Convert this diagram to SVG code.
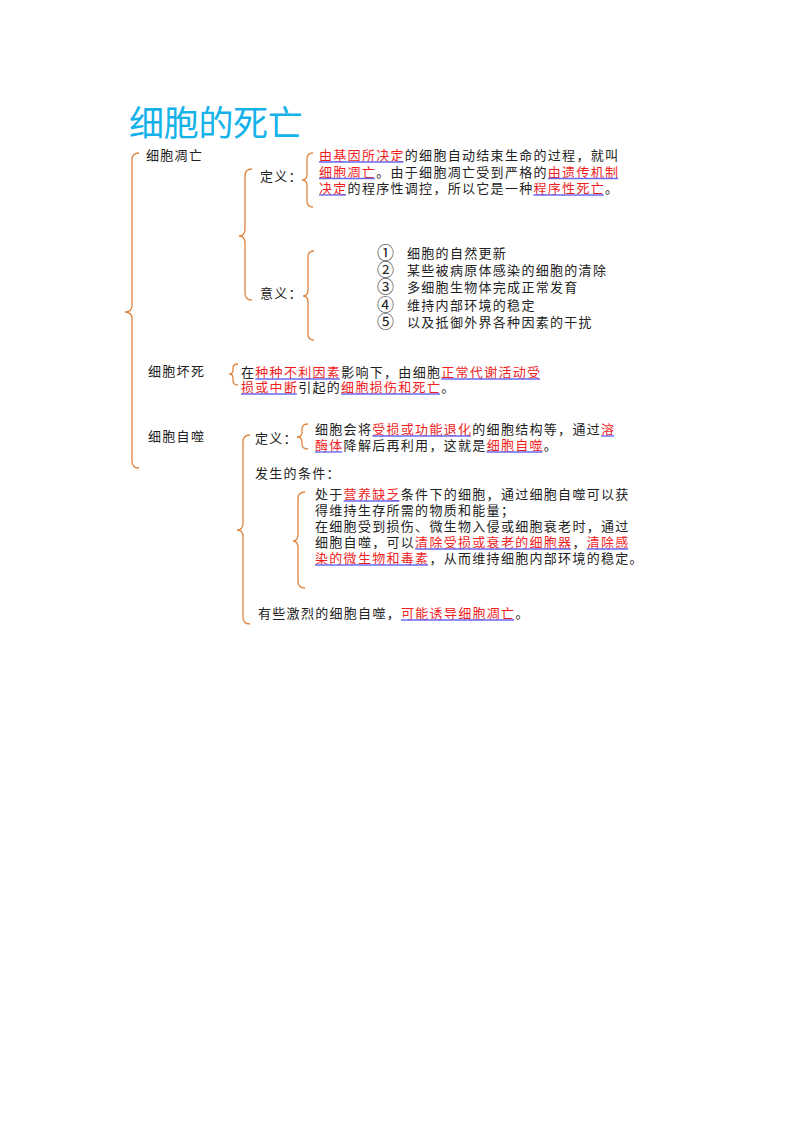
<svg xmlns="http://www.w3.org/2000/svg" width="800" height="1132" viewBox="0 0 800 1132">
<style>
text{font-family:"Noto Sans CJK SC","Noto Sans",sans-serif;font-size:13px;letter-spacing:1.3px;fill:#222}
.title{font-size:35px;letter-spacing:-0.3px;fill:#14B2EA}
.r{fill:#F01E1E}
.num{font-size:17px;letter-spacing:0}
.brace{fill:none;stroke:#DD8642;stroke-width:1.3}
.ul{stroke:#6B6BF0;stroke-width:1.4}
</style>
<rect width="800" height="1132" fill="#fff"/>
<g id="title"><text class="title" x="129" y="136">细胞的死亡</text></g>

<g id="connectors">
<path class="brace" d="M139,153 Q132,153 132,160 L132,305 Q132,312 125,312 Q132,312 132,319 L132,461 Q132,468 139,468"/>
<path class="brace" d="M252,169 Q245,169 245,176 L245,229 Q245,236 239,236 Q245,236 245,243 L245,293 Q245,300 252,300"/>
<path class="brace" d="M313,153 Q307,153 307,159 L307,174 Q307,180 302,180 Q307,180 307,186 L307,201 Q307,207 313,207"/>
<path class="brace" d="M314,251 Q308,251 308,257 L308,290 Q308,296 303,296 Q308,296 308,302 L308,334 Q308,340 314,340"/>
<path class="brace" d="M238,364 Q233,364 233,368 L233,370 Q233,374 229,374 Q233,374 233,378 L233,381 Q233,385 238,385"/>
<path class="brace" d="M250,435 Q243,435 243,442 L243,523 Q243,530 237,530 Q243,530 243,537 L243,617 Q243,624 250,624"/>
<path class="brace" d="M308,424 Q302,424 302,429 L302,432 Q302,437 297,437 Q302,437 302,442 L302,444 Q302,449 308,449"/>
<path class="brace" d="M305,492 Q298,492 298,499 L298,534 Q298,541 293,541 Q298,541 298,548 L298,581 Q298,588 305,588"/>
</g>

<g id="apoptosis"><text x="146" y="160">细胞凋亡</text></g>
<g id="apoptosis-def-label"><text x="260" y="181">定义：</text></g>
<g id="apoptosis-def">
<text x="319" y="160"><tspan class="r">由基因所决定</tspan>的细胞自动结束生命的过程，就叫</text>
<text x="319" y="176.5"><tspan class="r">细胞凋亡</tspan>。由于细胞凋亡受到严格的<tspan class="r">由遗传机制</tspan></text>
<text x="319" y="193"><tspan class="r">决定</tspan>的程序性调控，所以它是一种<tspan class="r">程序性死亡</tspan>。</text>
<line class="ul" x1="319" y1="162" x2="403.5" y2="162"/>
<line class="ul" x1="319" y1="178.5" x2="374.9" y2="178.5"/>
<line class="ul" x1="547.8" y1="178.5" x2="618" y2="178.5"/>
<line class="ul" x1="319" y1="195" x2="346" y2="195"/>
<line class="ul" x1="533.5" y1="195" x2="603.7" y2="195"/>
</g>
<g id="apoptosis-sig-label"><text x="260" y="298">意义：</text></g>
<g id="apoptosis-sig">
<text class="num" x="377" y="259">①</text><text x="407" y="258">细胞的自然更新</text>
<text class="num" x="377" y="276">②</text><text x="407" y="275">某些被病原体感染的细胞的清除</text>
<text class="num" x="377" y="293">③</text><text x="407" y="292">多细胞生物体完成正常发育</text>
<text class="num" x="377" y="310.5">④</text><text x="407" y="309.5">维持内部环境的稳定</text>
<text class="num" x="377" y="328">⑤</text><text x="407" y="327">以及抵御外界各种因素的干扰</text>
</g>

<g id="necrosis"><text x="148" y="376">细胞坏死</text></g>
<g id="necrosis-def">
<text x="241" y="377">在<tspan class="r">种种不利因素</tspan>影响下，由细胞<tspan class="r">正常代谢活动受</tspan></text>
<text x="241" y="392"><tspan class="r">损或中断</tspan>引起的<tspan class="r">细胞损伤和死亡</tspan>。</text>
<line class="ul" x1="255.3" y1="379" x2="339.8" y2="379"/>
<line class="ul" x1="441.2" y1="379" x2="540" y2="379"/>
<line class="ul" x1="241" y1="394" x2="296.9" y2="394"/>
<line class="ul" x1="341.1" y1="394" x2="439.9" y2="394"/>
</g>

<g id="autophagy"><text x="148" y="441">细胞自噬</text></g>
<g id="autophagy-def-label"><text x="255" y="443">定义：</text></g>
<g id="autophagy-def">
<text x="315" y="434">细胞会将<tspan class="r">受损或功能退化</tspan>的细胞结构等，通过<tspan class="r">溶</tspan></text>
<text x="315" y="450"><tspan class="r">酶体</tspan>降解后再利用，这就是<tspan class="r">细胞自噬</tspan>。</text>
<line class="ul" x1="372.2" y1="436" x2="471" y2="436"/>
<line class="ul" x1="601" y1="436" x2="614" y2="436"/>
<line class="ul" x1="315" y1="452" x2="342.3" y2="452"/>
<line class="ul" x1="486.6" y1="452" x2="542.5" y2="452"/>
</g>
<g id="autophagy-cond-label"><text x="255" y="478">发生的条件：</text></g>
<g id="autophagy-cond">
<text x="315" y="499">处于<tspan class="r">营养缺乏</tspan>条件下的细胞，通过细胞自噬可以获</text>
<text x="315" y="515">得维持生存所需的物质和能量；</text>
<text x="315" y="531">在细胞受到损伤、微生物入侵或细胞衰老时，通过</text>
<text x="315" y="547">细胞自噬，可以<tspan class="r">清除受损或衰老的细胞器</tspan>，<tspan class="r">清除感</tspan></text>
<text x="315" y="563"><tspan class="r">染的微生物和毒素</tspan>，从而维持细胞内部环境的稳定。</text>
<line class="ul" x1="343.6" y1="501" x2="399.5" y2="501"/>
<line class="ul" x1="415.1" y1="549" x2="571.1" y2="549"/>
<line class="ul" x1="586.7" y1="549" x2="628.3" y2="549"/>
<line class="ul" x1="315" y1="565" x2="428.1" y2="565"/>
</g>
<g id="autophagy-note">
<text x="258" y="618">有些激烈的细胞自噬，<tspan class="r">可能诱导细胞凋亡</tspan>。</text>
<line class="ul" x1="401" y1="620" x2="514.1" y2="620"/>
</g>
</svg>
